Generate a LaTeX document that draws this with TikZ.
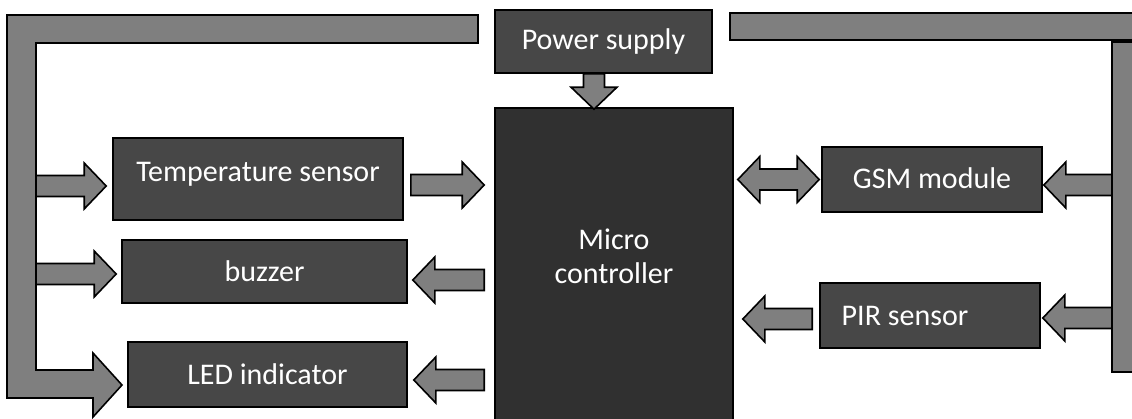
\documentclass[tikz,border=0pt]{standalone}
\usepackage{fontspec}
\setmainfont{Carlito}
\usetikzlibrary{calc}
\definecolor{boxgray}{HTML}{474747}
\definecolor{mcgray}{HTML}{303030}
\definecolor{arrgray}{HTML}{7F7F7F}
\tikzset{
  blk/.style={draw=black, line width=1.6pt, fill=boxgray, text=white,
    font=\fontsize{30}{34}\selectfont, inner sep=0pt, anchor=center},
  barrow/.style={draw=black, line width=1.6pt, fill=arrgray, line join=miter},
  lbl/.style={text=white, font=\fontsize{30}{34}\selectfont, align=center}
}
\def\bw{10.5pt}\def\hw{23pt}\def\hl{22pt}
% horizontal block arrow: y and start x from #1, tip x from #2
\newcommand\harr[2]{\draw[barrow] let \p1=(#1),\p2=(#2),\n1={ifthenelse(\x2>\x1,1,-1)} in
  (\x1,\y1+\bw) -- (\x2-\n1*\hl,\y1+\bw) -- (\x2-\n1*\hl,\y1+\hw) -- (\x2,\y1)
  -- (\x2-\n1*\hl,\y1-\hw) -- (\x2-\n1*\hl,\y1-\bw) -- (\x1,\y1-\bw) -- cycle;}
% double-headed horizontal block arrow
\newcommand\dharr[2]{\draw[barrow] let \p1=(#1),\p2=(#2) in
  (\x1,\y1) -- (\x1+\hl,\y1+\hw) -- (\x1+\hl,\y1+\bw) -- (\x2-\hl,\y1+\bw)
  -- (\x2-\hl,\y1+\hw) -- (\x2,\y1) -- (\x2-\hl,\y1-\hw) -- (\x2-\hl,\y1-\bw)
  -- (\x1+\hl,\y1-\bw) -- (\x1+\hl,\y1-\hw) -- cycle;}
% downward block arrow
\newcommand\varr[2]{\draw[barrow] let \p1=(#1),\p2=(#2) in
  (\x1+\bw,\y1) -- (\x1+\bw,\y2+\hl) -- (\x1+\hw,\y2+\hl) -- (\x1,\y2)
  -- (\x1-\hw,\y2+\hl) -- (\x1-\bw,\y2+\hl) -- (\x1-\bw,\y1) -- cycle;}
\begin{document}
\begin{tikzpicture}[x=1pt,y=-1pt]
\useasboundingbox (0,0) rectangle (1132,418);
\fill[white] (0,0) rectangle (1132,418);
% left bus with bent arrow to LED indicator
\draw[barrow] (478,15) -- (7,15) -- (7,398) -- (93,398) -- (93,417) -- (122,385)
  -- (93,353) -- (93,370) -- (36,370) -- (36,43) -- (478,43) -- cycle;
\coordinate (lbus) at (36,43);
% right bus
\draw[barrow] (730,13) rectangle (1140,40);
\draw[barrow] (1112,42) rectangle (1140,372);
\coordinate (rbus) at (1112,42);
% boxes
\node[blk, minimum width=217pt, minimum height=63pt] (power) at (603.5,41.5) {Power supply};
\node[blk, fill=mcgray, minimum width=238pt, minimum height=322pt,
  label={[lbl, yshift=13pt]center:Micro\\controller}] (mc) at (614,269) {};
\node[blk, minimum width=290pt, minimum height=82pt,
  label={[lbl, yshift=5pt]center:Temperature sensor}] (temp) at (258,179) {};
\node[blk, minimum width=285pt, minimum height=63pt] (buzzer) at (264.5,271.5) {buzzer};
\node[blk, minimum width=279pt, minimum height=65pt] (led) at (267.5,374.5) {LED indicator};
\node[blk, minimum width=220pt, minimum height=65pt,
  label={[lbl, yshift=1.5pt]center:GSM module}] (gsm) at (932,179.5) {};
\node[blk, minimum width=220pt, minimum height=65pt,
  label={[lbl, xshift=-25pt]center:PIR sensor}] (pir) at (930,315.5) {};
% connectors
\varr{[xshift=-9.5pt]power.south}{[yshift=-2pt]mc.north}
\harr{[xshift=7pt,yshift=-6pt]temp.east}{[xshift=-10pt]mc.west}
\harr{$(mc.west |- buzzer.east)+(-10,8.5)$}{[xshift=5pt]buzzer.east}
\harr{$(mc.west |- led.east)+(-10,5.5)$}{[xshift=6pt]led.east}
\dharr{$(mc.east |- gsm.west)+(4,0)$}{[xshift=-2pt]gsm.west}
\harr{$(rbus |- gsm.east)+(0,5.5)$}{[xshift=1pt]gsm.east}
\harr{$(pir.west)+(-7,3.5)$}{[xshift=9pt]mc.east}
\harr{$(rbus |- pir.east)+(0,2.5)$}{[xshift=2pt]pir.east}
\harr{$(lbus |- temp.west)+(0,7)$}{[xshift=-6pt]temp.west}
\harr{$(lbus |- buzzer.west)+(0,2.5)$}{[xshift=-5pt]buzzer.west}
\end{tikzpicture}
\end{document}
